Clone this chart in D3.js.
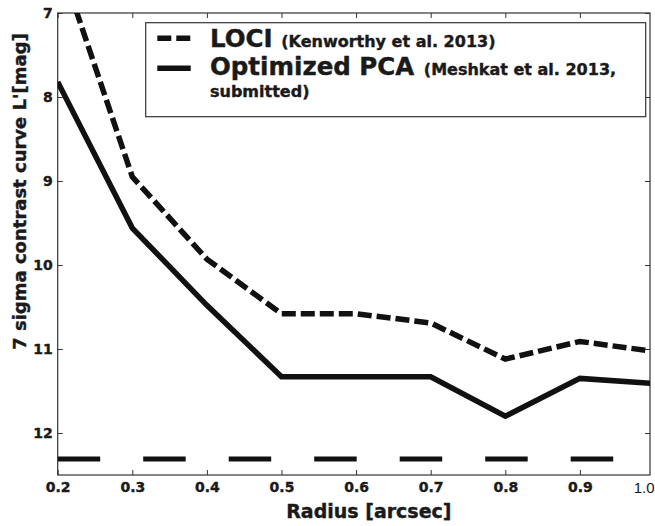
<!DOCTYPE html>
<html>
<head>
<meta charset="utf-8">
<script src="https://cdn.jsdelivr.net/npm/d3@7"></script>
<style>
  body { margin: 0; background: #fff; }
  text { font-family: "DejaVu Sans", sans-serif; font-weight: bold; fill: #1a1a1a; stroke: #1a1a1a; stroke-width: 0.4px; }
</style>
</head>
<body>
<svg id="chart" width="655" height="526"></svg>
<script>
// contrast curves (magnitudes)
const radius = [0.2, 0.3, 0.4, 0.5, 0.6, 0.7, 0.8, 0.9, 1.0]
const lociContrast = [6.32, 8.95, 9.93, 10.58, 10.58, 10.69, 11.12, 10.91, 11.03]
const pcaContrast = [7.82, 9.56, 10.48, 11.33, 11.33, 11.33, 11.80, 11.35, 11.41]
const limitRadius = [0.2, 1.0]
const limitLevel = [12.31, 12.31]

const xTicks = [0.2, 0.3, 0.4, 0.5, 0.6, 0.7, 0.8, 0.9]
const yTicks = [7, 8, 9, 10, 11, 12]

const margin = {top: 13, left: 57.7, bottom: 475, right: 650}

const svg = d3.select("#chart")

const x = d3.scaleLinear()
  .domain([0.2, 1.0])
  .range([margin.left, margin.left + 8 * 74.6])

const y = d3.scaleLinear()
  .domain([7, 12.5])
  .range([margin.top, margin.bottom])

svg.append("defs").append("clipPath").attr("id", "plot")
  .append("rect")
  .attr("x", margin.left).attr("y", margin.top)
  .attr("width", margin.right - margin.left)
  .attr("height", margin.bottom - margin.top)

// axes, ticks pointing inward on all four sides
const bottom = svg.append("g")
  .attr("transform", `translate(0, ${margin.bottom})`)
  .call(d3.axisBottom(x).tickValues(xTicks).tickSize(-5).tickPadding(7).tickFormat(d3.format(".1f")))
bottom.selectAll("text").style("font-size", "14px")

svg.append("text")
  .attr("x", x(1.0))
  .attr("y", 493)
  .attr("text-anchor", "end")
  .style("font-family", "'Liberation Sans', sans-serif")
  .style("font-weight", "normal")
  .style("stroke", "none")
  .style("font-size", "15px")
  .text("1.0")

const left = svg.append("g")
  .attr("transform", `translate(${margin.left}, 0)`)
  .call(d3.axisLeft(y).tickValues(yTicks).tickSize(-5).tickPadding(5).tickFormat(d3.format("d")))
left.selectAll("text").style("font-size", "14px")

svg.append("g")
  .attr("transform", `translate(0, ${margin.top})`)
  .call(d3.axisTop(x).tickValues(xTicks).tickSize(-5).tickFormat(""))

svg.append("g")
  .attr("transform", `translate(${margin.right}, 0)`)
  .call(d3.axisRight(y).tickValues(yTicks).tickSize(-5).tickFormat(""))

svg.selectAll(".domain").remove()
svg.selectAll(".tick line").attr("stroke", "#333")
svg.selectAll(".tick text").attr("fill", "#1a1a1a")

svg.append("rect")
  .attr("x", margin.left).attr("y", margin.top)
  .attr("width", margin.right - margin.left)
  .attr("height", margin.bottom - margin.top)
  .attr("fill", "none")
  .attr("stroke", "#333")
  .attr("stroke-width", 1.2)

// curves
const line = d3.line().x(d => x(d[0])).y(d => y(d[1]))
const plot = svg.append("g").attr("clip-path", "url(#plot)")

plot.append("path")
  .datum(d3.zip(limitRadius, limitLevel))
  .attr("d", line)
  .attr("fill", "none")
  .attr("stroke", "#111")
  .attr("stroke-width", 5)
  .attr("stroke-dasharray", "42.5,43")

plot.append("path")
  .datum(d3.zip(radius, lociContrast))
  .attr("d", line)
  .attr("fill", "none")
  .attr("stroke", "#111")
  .attr("stroke-width", 5.5)
  .attr("stroke-dasharray", "14,5")

plot.append("path")
  .datum(d3.zip(radius, pcaContrast))
  .attr("d", line)
  .attr("fill", "none")
  .attr("stroke", "#111")
  .attr("stroke-width", 5.5)
  .attr("stroke-linejoin", "miter")

// legend
const legend = svg.append("g")
legend.append("rect")
  .attr("x", 145.7).attr("y", 22.7)
  .attr("width", 500).attr("height", 94)
  .attr("fill", "#fff")
  .attr("stroke", "#333")
  .attr("stroke-width", 1.2)

legend.append("line")
  .attr("x1", 157.3).attr("x2", 190.7).attr("y1", 38.3).attr("y2", 38.3)
  .attr("stroke", "#111").attr("stroke-width", 5.5).attr("stroke-dasharray", "14,5")
legend.append("line")
  .attr("x1", 157.3).attr("x2", 190.7).attr("y1", 68.3).attr("y2", 68.3)
  .attr("stroke", "#111").attr("stroke-width", 5.5)

const t1 = legend.append("text").attr("x", 210).attr("y", 47)
t1.append("tspan").style("font-size", "24.5px").text("LOCI")
t1.append("tspan").attr("dx", 3).style("font-size", "16px").text(" (Kenworthy et al. 2013)")

const t2 = legend.append("text").attr("x", 210).attr("y", 74.5)
t2.append("tspan").style("font-size", "24.5px").text("Optimized PCA")
t2.append("tspan").attr("dx", 4).style("font-size", "16px").text(" (Meshkat et al. 2013,")

legend.append("text").attr("x", 210).attr("y", 97)
  .style("font-size", "16px").text("submitted)")

// axis titles
svg.append("text")
  .attr("x", (margin.left + margin.right) / 2 + 15)
  .attr("y", 518)
  .attr("text-anchor", "middle")
  .style("font-size", "19px")
  .text("Radius [arcsec]")

svg.append("text")
  .attr("transform", "rotate(-90)")
  .attr("x", -191.5)
  .attr("y", 26)
  .attr("text-anchor", "middle")
  .style("font-size", "18px")
  .text("7 sigma contrast curve L'[mag]")
</script>
</body>
</html>
